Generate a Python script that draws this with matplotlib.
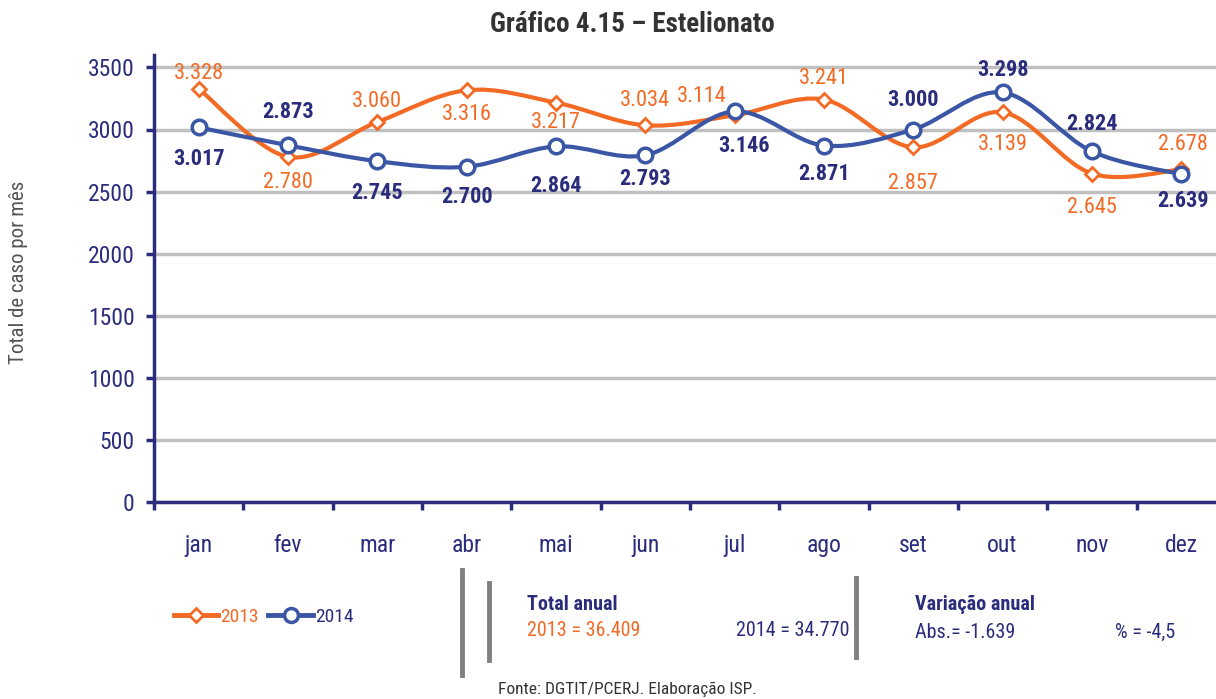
import numpy as np
import matplotlib
matplotlib.use("Agg")
import matplotlib.pyplot as plt
from matplotlib import font_manager
from matplotlib.path import Path
from matplotlib.patches import PathPatch
from matplotlib.lines import Line2D

months = ["jan", "fev", "mar", "abr", "mai", "jun", "jul", "ago", "set", "out", "nov", "dez"]
v2013 = [3328, 2780, 3060, 3316, 3217, 3034, 3114, 3241, 2857, 3139, 2645, 2678]
v2014 = [3017, 2873, 2745, 2700, 2864, 2793, 3146, 2871, 3000, 3298, 2824, 2639]
yticks = [0, 500, 1000, 1500, 2000, 2500, 3000, 3500]

# label offsets from the marker, in pixels (positive = above)
dy2013 = [15, -26, 21, -24, -20, 25, 19, 21, -36, -32, -34, 25]
dx2013 = [0, 0, 0, 0, 0, 0, -33, 0, 0, 0, 0, 2]
dy2014 = [-32, 33, -32, -30, -40, -24, -35, -28, 30, 22, 27, -27]
dx2014 = [0, 0, 0, 0, 0, 0, 9, 0, 0, 0, 0, 2]

ORANGE = "#f26a24"
BLUE = "#3a56a5"
NAVY = "#2b2d7c"
GRID = "#c0c0c0"

# pick a condensed font if one is there
names = {f.name for f in font_manager.fontManager.ttflist}
family = "DejaVu Sans"
for cand in ["Roboto Condensed", "Liberation Sans Narrow", "DejaVu Sans Condensed"]:
    if cand in names:
        family = cand
        break
plt.rcParams["font.family"] = [family, "DejaVu Sans"]

PX = 72 / 100  # pixels -> points


def fmt(v):
    return f"{v:,}".replace(",", ".")


def smooth_path(xs, ys):
    # cubic bezier through every point, excel-like smoothing
    pts = np.column_stack([xs, ys]).astype(float)
    n = len(pts)
    verts = [pts[0]]
    codes = [Path.MOVETO]
    for i in range(n - 1):
        p0 = pts[max(i - 1, 0)]
        p1 = pts[i]
        p2 = pts[i + 1]
        p3 = pts[min(i + 2, n - 1)]
        c1 = p1 + (p2 - p0) / 6.0
        c2 = p2 - (p3 - p1) / 6.0
        verts += [c1, c2, p2]
        codes += [Path.CURVE4] * 3
    return Path(verts, codes)


fig = plt.figure(figsize=(12.16, 6.99), dpi=100)
ax = fig.add_axes([154 / 1216, 197 / 699, (1216 - 154) / 1216, (502 - 55) / 699])

x = np.arange(len(months))
for vals, color in [(v2013, ORANGE), (v2014, BLUE)]:
    ax.add_patch(PathPatch(smooth_path(x, vals), facecolor="none", edgecolor=color, lw=3, zorder=3))

ax.plot(x, v2013, ls="none", marker="D", ms=7.5, mfc="white", mec=ORANGE, mew=2, zorder=4)
ax.plot(x, v2014, ls="none", marker="o", ms=10.5, mfc="white", mec=BLUE, mew=2.5, zorder=4)

for xi, v, ox, oy in zip(x, v2013, dx2013, dy2013):
    ax.annotate(fmt(v), (xi, v), xytext=(ox * PX, oy * PX), textcoords="offset points",
                ha="center", va="center", color=ORANGE, fontsize=16, zorder=5)
for xi, v, ox, oy in zip(x, v2014, dx2014, dy2014):
    ax.annotate(fmt(v), (xi, v), xytext=(ox * PX, oy * PX), textcoords="offset points",
                ha="center", va="center", color=NAVY, fontsize=16, fontweight="bold", zorder=5)

ax.set_yticks(yticks)
ax.set_yticklabels([str(t) for t in yticks], color=NAVY, fontsize=17)
ax.yaxis.grid(True, color=GRID, lw=2.5)
ax.set_axisbelow(True)

ax.set_xticks(x)
ax.set_xticklabels(months, color=NAVY, fontsize=17)
ax.set_xticks(np.arange(-0.5, 11.6, 1), minor=True)
ax.tick_params(axis="x", which="major", length=0, pad=23)
ax.tick_params(axis="x", which="minor", length=6, width=2.5, color=NAVY, direction="out")
ax.tick_params(axis="y", length=6, width=2.5, color=NAVY, direction="out", pad=8)

ax.set_ylim(0, 3600)
ax.set_xlim(-0.5, 11.39)

for s in ["top", "right"]:
    ax.spines[s].set_visible(False)
for s in ["left", "bottom"]:
    ax.spines[s].set_color(NAVY)
    ax.spines[s].set_linewidth(2.5)

fig.text(19 / 1216, 1 - 272 / 699, "Total de caso por mês", rotation=90, ha="center", va="center",
         color="#555555", fontsize=15)

fig.text(632 / 1216, 1 - 25 / 699, "Gráfico 4.15 – Estelionato", ha="center", va="center",
         fontsize=19.5, fontweight="bold", color="#333333")

# legend
handles = [
    Line2D([], [], color=ORANGE, lw=3.5, marker="D", ms=7.5, mfc="white", mec=ORANGE, mew=2),
    Line2D([], [], color=BLUE, lw=3.5, marker="o", ms=10, mfc="white", mec=BLUE, mew=2.5),
]
leg = fig.legend(handles, ["2013", "2014"], loc="center left", bbox_to_anchor=(156 / 1216, 1 - 617 / 699),
                 frameon=False, ncol=2, handlelength=2.3, handletextpad=0.1, columnspacing=0.5,
                 fontsize=14)
for t, c in zip(leg.get_texts(), [ORANGE, NAVY]):
    t.set_color(c)

# separator bars
for xb, y0, y1 in [(462, 570, 675), (489, 583, 660), (856, 578, 657)]:
    fig.add_artist(Line2D([xb / 1216] * 2, [1 - y0 / 699, 1 - y1 / 699], color="#808080", lw=3.5))

# annual totals box
fig.text(527 / 1216, 1 - 605 / 699, "Total anual", fontsize=14.5, fontweight="bold", color=NAVY, va="center")
fig.text(527 / 1216, 1 - 631 / 699, "2013 = 36.409", fontsize=14.5, color=ORANGE, va="center")
fig.text(850 / 1216, 1 - 631 / 699, "2014 = 34.770", fontsize=14.5, color=NAVY, va="center", ha="right")
fig.text(915 / 1216, 1 - 605 / 699, "Variação anual", fontsize=14.5, fontweight="bold", color=NAVY, va="center")
fig.text(915 / 1216, 1 - 632 / 699, "Abs.= -1.639", fontsize=14.5, color=NAVY, va="center")
fig.text(1115 / 1216, 1 - 632 / 699, "% = -4,5", fontsize=14.5, color=NAVY, va="center")

fig.text(498 / 1216, 1 - 689 / 699, "Fonte: DGTIT/PCERJ. Elaboração ISP.", fontsize=12.5, color="#333333",
         va="center")

fig.savefig("out.png", dpi=100)
